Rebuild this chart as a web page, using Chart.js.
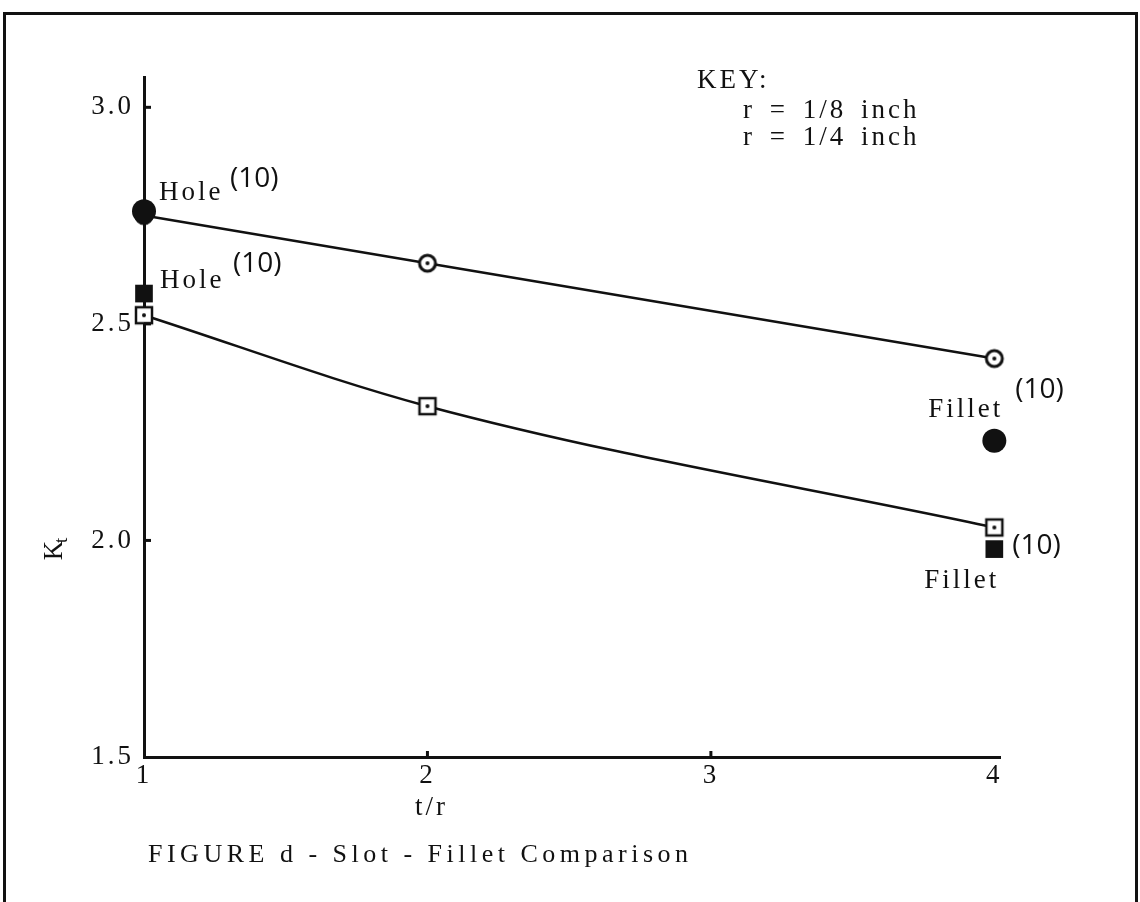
<!DOCTYPE html>
<html>
<head>
<meta charset="utf-8">
<script src="https://cdn.jsdelivr.net/npm/chart.js@4.4.1/dist/chart.umd.min.js"></script>
<style>
  html, body { margin: 0; padding: 0; background: #fff; }
  #wrap { position: relative; width: 1140px; height: 902px; overflow: hidden; }
  #frame { position: absolute; left: 3px; top: 12px; width: 1129px; height: 960px; border: 3px solid #111; border-bottom: none; }
  #chart { position: absolute; left: 0; top: 0; }
  #caption { position: absolute; left: 148px; top: 839px; font: 26px 'Liberation Serif'; letter-spacing: 4.5px; color: #111; white-space: nowrap; }
</style>
</head>
<body>
<div id="wrap">
  <div id="frame"></div>
  <canvas id="chart" width="1140" height="902"></canvas>
  <div id="caption">FIGURE d - Slot - Fillet Comparison</div>
</div>
<script>
// t/r where Kt was measured
const tOverR = [1, 2, 4];
// Kt for r = 1/8 inch (open circles)
const ktEighth = [2.75, 2.64, 2.42];
// Kt for r = 1/4 inch (open squares)
const ktQuarter = [2.52, 2.31, 2.03];
// ref (10) values: hole at t/r = 1, fillet at t/r = 4
const refX = [1, 4];
const refCircle = [2.76, 2.23];
const refSquare = [2.57, 1.98];
const refWords = ['Hole', 'Fillet'];
const refNote = '(10)';

const xTicks = [1, 2, 3, 4];
const yTicks = [1.5, 2.0, 2.5, 3.0];
const keyLines = ['KEY:', 'r = 1/8 inch', 'r = 1/4 inch'];

const ink = '#111';
const serif = '"Liberation Serif", "DejaVu Serif", serif';

// open marker with a dot in the middle, like the plotted points
function dottedMarker(shape) {
    const c = document.createElement('canvas');
    c.width = 26; c.height = 26;
    const g = c.getContext('2d');
    g.fillStyle = '#fff';
    g.strokeStyle = ink;
    g.lineWidth = 3;
    if (shape === 'circle') {
        g.beginPath();
        g.arc(13, 13, 8, 0, Math.PI * 2);
        g.fill();
        g.stroke();
    } else {
        g.fillRect(5, 5, 16, 16);
        g.lineWidth = 2.5;
        g.strokeRect(5, 5, 16, 16);
    }
    g.fillStyle = ink;
    g.beginPath();
    g.arc(13, 13, 2, 0, Math.PI * 2);
    g.fill();
    return c;
}

const toPoints = (xs, ys) => xs.map((x, i) => ({ x: x, y: ys[i] }));

// tick marks, labels and the key
const annotate = {
    id: 'annotate',
    beforeDraw(chart) {
        chart.ctx.letterSpacing = '3px';
    },
    afterDraw(chart) {
        const { ctx, scales: { x, y } } = chart;
        ctx.save();
        ctx.letterSpacing = '0px';
        ctx.strokeStyle = ink;
        ctx.lineWidth = 3;

        // small ticks pointing into the plot
        yTicks.slice(1).forEach(v => {
            const py = y.getPixelForValue(v);
            ctx.beginPath();
            ctx.moveTo(x.left, py);
            ctx.lineTo(x.left + 7, py);
            ctx.stroke();
        });
        xTicks.slice(1, 3).forEach(v => {
            const px = x.getPixelForValue(v);
            ctx.beginPath();
            ctx.moveTo(px, y.bottom);
            ctx.lineTo(px, y.bottom - 6);
            ctx.stroke();
        });

        ctx.fillStyle = ink;
        ctx.textBaseline = 'middle';
        ctx.textAlign = 'left';

        const word = (txt, px, py) => {
            ctx.font = '27px ' + serif;
            ctx.letterSpacing = '3px';
            ctx.wordSpacing = '5px';
            ctx.fillText(txt, px, py);
        };
        const note = (px, py) => {
            ctx.font = '500 28px "Open Sans", sans-serif';
            ctx.letterSpacing = '0px';
            ctx.wordSpacing = '0px';
            ctx.fillText(refNote, px, py);
        };

        // Hole (10) at t/r = 1
        const hx = x.getPixelForValue(refX[0]);
        let py = y.getPixelForValue(refCircle[0]);
        word(refWords[0], hx + 15, py - 18);
        note(hx + 86, py - 32);
        py = y.getPixelForValue(refSquare[0]);
        word(refWords[0], hx + 16, py - 13);
        note(hx + 89, py - 30);

        // Fillet (10) at t/r = 4
        const fx = x.getPixelForValue(refX[1]);
        py = y.getPixelForValue(refCircle[1]);
        word(refWords[1], fx - 66, py - 31);
        note(fx + 21, py - 51);
        py = y.getPixelForValue(refSquare[1]);
        word(refWords[1], fx - 70, py + 32);
        note(fx + 18, py - 3);

        // key
        word(keyLines[0], 697, 81);
        word(keyLines[1], 743, 111);
        word(keyLines[2], 743, 138);

        // axis titles
        ctx.textAlign = 'center';
        word('t/r', x.getPixelForValue(2) + 4, y.bottom + 51);

        ctx.save();
        ctx.translate(55, y.getPixelForValue(2.0) + 10);
        ctx.rotate(-Math.PI / 2);
        ctx.letterSpacing = '0px';
        ctx.font = '27px ' + serif;
        ctx.fillText('K', 0, 0);
        ctx.font = '19px ' + serif;
        ctx.fillText('t', 10, 7);
        ctx.restore();

        ctx.restore();
    }
};

const chart = new Chart(document.getElementById('chart'), {
    type: 'scatter',
    data: {
        datasets: [
            {
                label: 'ref (10), circle',
                data: toPoints(refX, refCircle),
                pointStyle: 'circle',
                pointRadius: 12,
                backgroundColor: ink,
                borderColor: ink,
                borderWidth: 0,
                clip: false
            },
            {
                label: 'ref (10), square',
                data: toPoints(refX, refSquare),
                pointStyle: 'rect',
                pointRadius: 12.5,
                backgroundColor: ink,
                borderColor: ink,
                borderWidth: 0,
                clip: false
            },
            {
                label: 'r = 1/8 inch',
                data: toPoints(tOverR, ktEighth),
                showLine: true,
                tension: 0,
                borderColor: ink,
                borderWidth: 2.5,
                pointStyle: dottedMarker('circle'),
                pointRadius: 9,
                clip: false
            },
            {
                label: 'r = 1/4 inch',
                data: toPoints(tOverR, ktQuarter),
                showLine: true,
                tension: 0.4,
                cubicInterpolationMode: 'monotone',
                borderColor: ink,
                borderWidth: 2.5,
                pointStyle: dottedMarker('square'),
                pointRadius: 9,
                clip: false
            }
        ]
    },
    options: {
        responsive: false,
        animation: false,
        events: [],
        layout: { padding: { left: 20, top: 77, right: 140, bottom: 85 } },
        plugins: {
            legend: { display: false },
            tooltip: { enabled: false }
        },
        scales: {
            x: {
                type: 'linear',
                min: 1,
                max: 4.02,
                afterBuildTicks: s => { s.ticks = xTicks.map(v => ({ value: v })); },
                afterFit: s => { s.height = 60; },
                grid: { display: false, drawTicks: false },
                border: { display: true, color: ink, width: 3 },
                ticks: {
                    color: ink,
                    padding: 3,
                    maxRotation: 0,
                    autoSkip: false,
                    font: { family: serif, size: 27 },
                    callback: v => String(v)
                }
            },
            y: {
                type: 'linear',
                min: 1.5,
                max: 3.07,
                afterBuildTicks: s => { s.ticks = yTicks.map(v => ({ value: v })); },
                afterFit: s => { s.width = 124; },
                grid: { display: false, drawTicks: false },
                border: { display: true, color: ink, width: 3 },
                ticks: {
                    color: ink,
                    padding: 10,
                    autoSkip: false,
                    font: { family: serif, size: 27 },
                    callback: v => v.toFixed(1)
                }
            }
        }
    },
    plugins: [annotate]
});
</script>
</body>
</html>
